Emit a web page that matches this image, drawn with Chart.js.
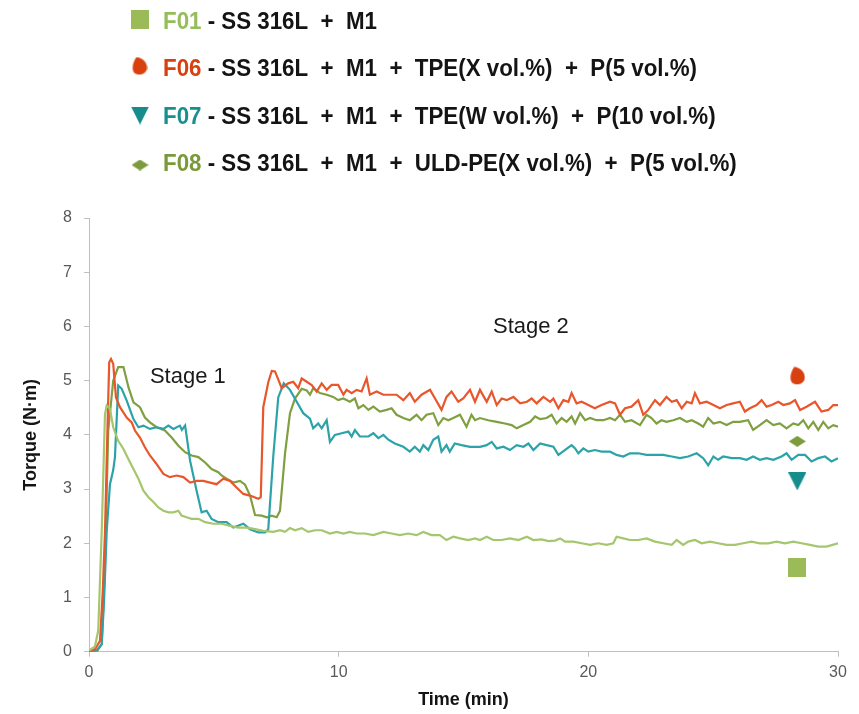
<!DOCTYPE html>
<html>
<head>
<meta charset="utf-8">
<script src="https://cdn.jsdelivr.net/npm/chart.js@4.4.1/dist/chart.umd.min.js"></script>
<style>
  html, body { margin: 0; padding: 0; background: #fff; }
  #wrap { position: relative; width: 859px; height: 714px; }
</style>
</head>
<body>
<div id="wrap"><canvas id="chart" width="859" height="714"></canvas></div>
<script>
// time (min) / torque (N·m)
const f01Time = [0,0.24,0.37,0.51,0.64,0.71,0.84,0.97,1.17,1.38,1.58,1.78,1.98,2.18,2.38,2.58,2.78,2.98,3.18,3.38,3.58,3.71,3.91,4.11,4.38,4.65,4.98,5.31,5.65,5.98,6.32,6.65,6.98,7.38,7.65,7.85,8.05,8.25,8.52,8.78,9.05,9.32,9.65,9.92,10.19,10.45,10.72,11.05,11.39,11.79,12.12,12.45,12.79,13.12,13.39,13.72,14.05,14.32,14.59,14.86,15.19,15.46,15.66,15.93,16.19,16.53,16.86,17.2,17.54,17.8,18.13,18.4,18.67,18.87,19.07,19.4,19.73,20.07,20.4,20.73,21.0,21.13,21.4,21.67,22.0,22.33,22.67,23.0,23.34,23.54,23.8,24.0,24.27,24.54,24.87,25.2,25.54,25.87,26.2,26.54,26.87,27.2,27.54,27.87,28.21,28.54,28.88,29.21,29.54,30.0];
const f01Torque = [0.02,0.1,0.39,2.23,4.38,4.54,4.48,4.14,3.89,3.74,3.55,3.37,3.19,2.97,2.85,2.76,2.66,2.6,2.57,2.57,2.6,2.51,2.48,2.45,2.45,2.39,2.36,2.36,2.32,2.29,2.29,2.26,2.23,2.21,2.24,2.21,2.28,2.24,2.28,2.21,2.24,2.24,2.18,2.21,2.18,2.21,2.18,2.18,2.15,2.21,2.18,2.15,2.18,2.15,2.21,2.15,2.15,2.06,2.12,2.09,2.06,2.09,2.06,2.12,2.06,2.06,2.09,2.06,2.12,2.06,2.07,2.04,2.05,2.09,2.03,2.03,2.0,1.97,2.0,1.97,2.0,2.12,2.09,2.06,2.06,2.09,2.03,2.0,1.97,2.06,1.97,2.03,2.06,2.0,2.03,2.0,1.97,1.97,2.0,2.03,2.0,2.0,2.03,2.0,2.03,2.0,1.97,1.94,1.94,2.0];

const f06Time = [0,0.25,0.44,0.55,0.64,0.75,0.81,0.88,0.97,1.08,1.24,1.51,1.71,1.84,2.04,2.24,2.44,2.71,2.98,3.24,3.51,3.78,4.05,4.31,4.58,4.85,5.11,5.38,5.65,5.91,6.18,6.45,6.78,6.88,6.98,7.18,7.32,7.45,7.72,7.98,8.18,8.38,8.52,8.72,8.92,9.12,9.32,9.52,9.72,9.98,10.19,10.32,10.52,10.72,10.92,11.12,11.25,11.52,11.79,12.05,12.32,12.59,12.85,13.05,13.32,13.66,13.86,14.12,14.32,14.52,14.79,14.99,15.26,15.46,15.66,15.93,16.13,16.33,16.53,16.73,17.0,17.27,17.54,17.73,17.93,18.2,18.47,18.6,18.8,19.0,19.2,19.33,19.53,19.73,20.0,20.26,20.53,20.87,21.07,21.27,21.47,21.73,22.0,22.2,22.4,22.67,22.87,23.13,23.34,23.54,23.74,23.94,24.14,24.27,24.47,24.74,25.01,25.27,25.54,25.8,26.07,26.27,26.47,26.74,26.94,27.14,27.34,27.61,27.81,28.07,28.28,28.48,28.74,29.08,29.34,29.61,29.81,30.0];
const f06Torque = [0,0.05,0.2,1.1,2.2,4.3,5.34,5.4,5.31,4.69,4.51,4.32,4.23,4.08,3.95,3.77,3.62,3.46,3.28,3.22,3.25,3.22,3.12,3.15,3.15,3.12,3.09,3.19,3.15,3.03,2.91,2.88,2.82,2.85,4.51,4.97,5.18,5.17,4.86,4.95,4.98,4.86,5.04,4.98,4.92,4.8,4.95,4.83,4.92,4.92,4.74,4.83,4.77,4.83,4.8,5.04,4.74,4.8,4.74,4.74,4.74,4.64,4.77,4.61,4.74,4.83,4.67,4.46,4.7,4.8,4.61,4.67,4.83,4.61,4.83,4.61,4.8,4.55,4.67,4.64,4.7,4.58,4.61,4.67,4.58,4.7,4.61,4.67,4.49,4.64,4.61,4.77,4.58,4.61,4.55,4.49,4.55,4.61,4.58,4.37,4.49,4.52,4.64,4.37,4.46,4.64,4.55,4.7,4.61,4.64,4.49,4.61,4.58,4.77,4.58,4.61,4.55,4.49,4.55,4.58,4.61,4.43,4.49,4.55,4.64,4.52,4.55,4.61,4.55,4.58,4.64,4.46,4.52,4.61,4.43,4.46,4.55,4.55];

const f07Time = [0,0.3,0.51,0.6,0.71,0.84,0.97,1.04,1.17,1.31,1.51,1.78,1.98,2.18,2.44,2.71,2.98,3.18,3.38,3.64,3.72,3.85,4.05,4.31,4.51,4.71,4.91,5.18,5.51,5.78,6.18,6.45,6.78,7.05,7.18,7.38,7.58,7.8,8.05,8.32,8.58,8.85,8.98,9.18,9.32,9.52,9.65,9.85,10.12,10.39,10.52,10.65,10.85,11.19,11.39,11.59,11.79,11.99,12.25,12.59,12.85,13.05,13.25,13.39,13.59,13.79,13.99,14.12,14.32,14.45,14.65,14.92,15.26,15.66,15.93,16.13,16.33,16.6,16.86,17.13,17.4,17.6,17.8,18.07,18.33,18.6,18.8,19.06,19.33,19.47,19.6,19.8,20.0,20.26,20.53,20.87,21.13,21.4,21.67,22.0,22.33,22.67,23.0,23.34,23.67,24.0,24.34,24.6,24.8,25.01,25.2,25.4,25.74,26.07,26.34,26.6,26.87,27.14,27.41,27.74,27.94,28.14,28.41,28.68,28.94,29.21,29.48,29.74,30.0];
const f07Torque = [0,0.02,0.14,0.9,2.23,3.09,3.35,3.59,4.91,4.85,4.63,4.29,4.14,4.17,4.11,4.14,4.11,4.17,4.11,4.17,4.09,4.17,3.52,2.97,2.57,2.6,2.45,2.39,2.39,2.29,2.36,2.26,2.2,2.2,2.26,3.6,4.69,4.95,4.83,4.61,4.4,4.3,4.12,4.21,4.12,4.27,3.87,4.0,4.03,4.06,3.97,4.09,3.97,3.97,4.03,3.94,4.0,3.91,3.84,3.78,3.69,3.78,3.69,3.81,3.72,3.91,3.97,3.69,3.81,3.69,3.84,3.81,3.78,3.78,3.81,3.87,3.75,3.78,3.72,3.81,3.78,3.84,3.72,3.84,3.81,3.78,3.63,3.72,3.81,3.75,3.66,3.75,3.69,3.72,3.69,3.69,3.63,3.6,3.66,3.66,3.63,3.63,3.63,3.6,3.57,3.6,3.66,3.57,3.44,3.6,3.54,3.6,3.57,3.57,3.54,3.6,3.54,3.57,3.54,3.6,3.66,3.54,3.63,3.63,3.51,3.57,3.6,3.51,3.57];

const f08Time = [0,0.31,0.51,0.64,0.77,0.97,1.17,1.38,1.58,1.78,2.04,2.24,2.44,2.71,3.04,3.31,3.58,3.85,4.11,4.38,4.65,4.91,5.18,5.31,5.51,5.78,6.05,6.25,6.45,6.65,6.92,7.12,7.32,7.52,7.65,7.85,8.05,8.25,8.52,8.72,8.85,8.98,9.25,9.52,9.78,9.98,10.19,10.45,10.65,10.79,10.99,11.19,11.39,11.65,11.92,12.12,12.32,12.59,12.85,13.12,13.32,13.52,13.79,13.99,14.19,14.39,14.59,14.86,15.12,15.32,15.46,15.66,15.99,16.33,16.66,16.93,17.13,17.4,17.67,17.87,18.07,18.33,18.53,18.73,18.93,19.13,19.33,19.47,19.67,19.87,20.07,20.33,20.6,20.87,21.07,21.27,21.47,21.73,22.07,22.33,22.53,22.73,22.93,23.13,23.4,23.67,23.94,24.14,24.4,24.6,24.8,25.01,25.27,25.54,25.8,26.07,26.4,26.6,26.87,27.14,27.41,27.67,27.94,28.21,28.41,28.61,28.81,29.01,29.21,29.41,29.61,29.81,30.0];
const f08Torque = [0,0,0.14,1.62,4.08,5.0,5.25,5.25,4.88,4.6,4.51,4.32,4.23,4.14,4.08,3.95,3.8,3.68,3.62,3.59,3.49,3.37,3.31,3.25,3.19,3.12,3.15,3.08,2.88,2.52,2.51,2.48,2.51,2.48,2.6,3.65,4.4,4.67,4.85,4.82,4.74,4.86,4.77,4.74,4.7,4.64,4.67,4.61,4.67,4.49,4.55,4.46,4.52,4.43,4.46,4.49,4.37,4.31,4.27,4.37,4.27,4.37,4.4,4.18,4.31,4.27,4.31,4.37,4.15,4.37,4.27,4.31,4.27,4.24,4.21,4.18,4.12,4.18,4.24,4.34,4.29,4.31,4.37,4.21,4.31,4.24,4.34,4.21,4.4,4.27,4.31,4.27,4.27,4.31,4.27,4.37,4.24,4.27,4.18,4.37,4.31,4.21,4.27,4.24,4.27,4.31,4.24,4.27,4.21,4.15,4.31,4.21,4.24,4.18,4.24,4.24,4.27,4.09,4.18,4.27,4.18,4.21,4.12,4.21,4.18,4.27,4.12,4.24,4.09,4.24,4.12,4.18,4.15];

// end-of-run markers next to each curve
const markerTime = [28.37, 28.37, 28.37, 28.37];
const markerTorque = [1.55, 5.09, 3.14, 3.88];

const seriesCodes = ['F01', 'F06', 'F07', 'F08'];
const seriesLabels = [
  ' - SS 316L  +  M1',
  ' - SS 316L  +  M1  +  TPE(X vol.%)  +  P(5 vol.%)',
  ' - SS 316L  +  M1  +  TPE(W vol.%)  +  P(10 vol.%)',
  ' - SS 316L  +  M1  +  ULD-PE(X vol.%)  +  P(5 vol.%)'
];
const lineColors = ['#A5C66C', '#E8562C', '#2BA3A8', '#7F9F40'];
const codeColors = ['#95BD5A', '#D8410F', '#17908F', '#7A9A3A'];

const stageText = ['Stage 1', 'Stage 2'];
const stageTime = [2.44, 16.18];
const stageTorque = [4.96, 5.88];

function pts(t, v) { return t.map((x, i) => ({ x: x, y: v[i] })); }

function makeMarker(kind, color) {
  const c = document.createElement('canvas');
  const size = { square: [18, 19], drop: [16, 19], tri: [18, 18], diamond: [17, 11] }[kind];
  c.width = size[0]; c.height = size[1];
  const g = c.getContext('2d');
  g.fillStyle = color;
  g.beginPath();
  if (kind === 'square') {
    g.rect(0, 0, 18, 19);
  } else if (kind === 'drop') {
    g.moveTo(5, 0.5);
    g.bezierCurveTo(11, 1.5, 16, 6, 15.5, 12);
    g.bezierCurveTo(15, 18, 6, 20, 2.5, 16);
    g.bezierCurveTo(0, 13, 1, 6, 5, 0.5);
  } else if (kind === 'tri') {
    g.moveTo(0, 0); g.lineTo(18, 0); g.lineTo(9, 18);
  } else {
    g.moveTo(8.5, 0); g.lineTo(17, 5.5); g.lineTo(8.5, 11); g.lineTo(0, 5.5);
  }
  g.closePath();
  g.fill();
  return c;
}

const markerImgs = [
  makeMarker('square', '#9BBB59'),
  makeMarker('drop', '#D8410F'),
  makeMarker('tri', '#168C8C'),
  makeMarker('diamond', '#7B9B3D')
];

const legendPlugin = {
  id: 'topLegend',
  afterDraw(chart) {
    const ctx = chart.ctx;
    const markerPos = [[139.5, 19.5], [139.5, 66], [140, 115.5], [140, 165]];
    const baselines = [28.5, 76, 124, 171];
    ctx.save();
    ctx.font = 'bold 23px "Liberation Sans", Arial, sans-serif';
    const fullW = ctx.measureText(seriesCodes[1] + seriesLabels[1]).width;
    const sx = 534 / fullW;
    seriesCodes.forEach((code, i) => {
      const img = markerImgs[i];
      ctx.drawImage(img, markerPos[i][0] - img.width / 2, markerPos[i][1] - img.height / 2);
      ctx.save();
      ctx.translate(163, baselines[i]);
      ctx.scale(sx, 1);
      ctx.textBaseline = 'alphabetic';
      ctx.fillStyle = codeColors[i];
      ctx.fillText(code, 0, 0);
      const w = ctx.measureText(code).width;
      ctx.fillStyle = '#141414';
      ctx.fillText(seriesLabels[i], w, 0);
      ctx.restore();
    });
    // stage annotations
    const xs = chart.scales.x, ys = chart.scales.y;
    ctx.font = '22px "Liberation Sans", Arial, sans-serif';
    ctx.fillStyle = '#1a1a1a';
    ctx.textBaseline = 'alphabetic';
    stageText.forEach((s, i) => {
      ctx.fillText(s, xs.getPixelForValue(stageTime[i]), ys.getPixelForValue(stageTorque[i]));
    });
    ctx.restore();
  }
};

const lineSeries = [[f01Time, f01Torque], [f06Time, f06Torque], [f07Time, f07Torque], [f08Time, f08Torque]];
const datasets = lineSeries.map((s, i) => ({
  label: seriesCodes[i],
  data: pts(s[0], s[1]),
  borderColor: lineColors[i],
  borderWidth: 2.2,
  pointRadius: 0,
  tension: 0,
  fill: false
}));
markerImgs.forEach((img, i) => {
  datasets.push({
    label: seriesCodes[i] + ' marker',
    data: [{ x: markerTime[i], y: markerTorque[i] }],
    showLine: false,
    pointStyle: img,
    pointRadius: 9,
    borderWidth: 0
  });
});

new Chart(document.getElementById('chart').getContext('2d'), {
  type: 'line',
  data: { datasets: datasets },
  plugins: [legendPlugin],
  options: {
    responsive: false,
    animation: false,
    layout: { padding: { top: 218, right: 21, bottom: 0, left: 0 } },
    plugins: { legend: { display: false }, tooltip: { enabled: false } },
    scales: {
      x: {
        type: 'linear', min: 0, max: 30,
        afterFit(axis) { axis.height = 62.3; },
        ticks: { stepSize: 10, color: '#595959', padding: 6, font: { family: 'Liberation Sans', size: 16 }, maxRotation: 0 },
        grid: { display: true, drawOnChartArea: false, drawTicks: true, tickLength: 5, color: '#BFBFBF' },
        border: { color: '#BFBFBF', width: 1 },
        title: { display: true, text: 'Time (min)', color: '#141414', font: { family: 'Liberation Sans', size: 18, weight: 'bold' }, padding: { top: 4, bottom: 3 } }
      },
      y: {
        type: 'linear', min: 0, max: 8,
        afterFit(axis) { axis.width = 89; },
        ticks: { stepSize: 1, color: '#595959', padding: 12, font: { family: 'Liberation Sans', size: 16 } },
        grid: { display: true, drawOnChartArea: false, drawTicks: true, tickLength: 5, color: '#BFBFBF' },
        border: { color: '#BFBFBF', width: 1 },
        title: { display: true, text: 'Torque (N·m)', color: '#141414', font: { family: 'Liberation Sans', size: 18, weight: 'bold' }, padding: { top: 20, bottom: 0 } }
      }
    }
  }
});
</script>
</body>
</html>
